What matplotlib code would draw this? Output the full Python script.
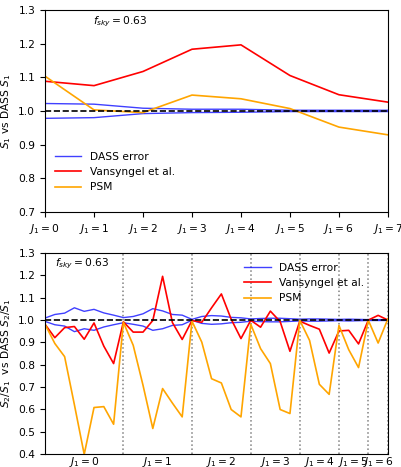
import matplotlib.pyplot as plt
import numpy as np

plt.rcParams['font.size'] = 7.7
plt.rcParams['mathtext.fontset'] = 'dejavusans'

# top panel: S1 ratios for J1 = 0..7
j1_top = np.arange(8)
s1_err_hi = [1.022, 1.020, 1.008, 1.005, 1.005, 1.002, 1.002, 1.002]
s1_err_lo = [0.978, 0.980, 0.992, 0.995, 0.996, 0.998, 0.998, 0.998]
s1_vans = [1.088, 1.075, 1.117, 1.183, 1.196, 1.105, 1.048, 1.026]
s1_psm = [1.103, 1.003, 0.995, 1.047, 1.036, 1.007, 0.952, 0.929]

# bottom panel: S2/S1 ratios, grouped by J1 (8,7,6,5,4,3,2,1 points)
group_sizes = [8, 7, 6, 5, 4, 3, 2, 1]
s2_err_hi = [1.009, 1.025, 1.031, 1.055, 1.039, 1.048, 1.032, 1.022,
             1.011, 1.016, 1.028, 1.051, 1.041, 1.025, 1.022,
             1.003, 1.016, 1.020, 1.018, 1.012, 1.010,
             1.005, 1.007, 1.008, 1.008, 1.006,
             1.004, 1.005, 1.005, 1.004,
             1.003, 1.004, 1.003,
             1.002, 1.002,
             1.002]
s2_err_lo = [0.994, 0.979, 0.973, 0.948, 0.961, 0.954, 0.969, 0.979,
             0.988, 0.981, 0.973, 0.954, 0.961, 0.976, 0.979,
             0.999, 0.985, 0.981, 0.983, 0.988, 0.990,
             0.995, 0.993, 0.992, 0.992, 0.994,
             0.996, 0.995, 0.995, 0.996,
             0.997, 0.996, 0.997,
             0.998, 0.998,
             0.998]
s2_vans = [0.981, 0.921, 0.966, 0.971, 0.914, 0.987, 0.883, 0.805,
           0.992, 0.946, 0.946, 0.998, 1.196, 0.989, 0.913,
           0.998, 0.990, 1.055, 1.117, 1.004, 0.917,
           0.999, 0.968, 1.040, 0.993, 0.860,
           0.995, 0.976, 0.959, 0.852,
           0.951, 0.954, 0.893,
           1.000, 1.021,
           1.000]
s2_psm = [0.981, 0.895, 0.836, 0.620, 0.398, 0.608, 0.612, 0.533,
          0.990, 0.887, 0.708, 0.514, 0.693, 0.628, 0.566,
          0.995, 0.901, 0.737, 0.718, 0.599, 0.566,
          0.981, 0.872, 0.805, 0.599, 0.581,
          0.999, 0.909, 0.712, 0.667,
          0.976, 0.867, 0.787,
          0.999, 0.897,
          1.006]

fig = plt.figure(figsize=(4.02, 4.67), dpi=100)
ax1 = fig.add_axes([0.112, 0.546, 0.853, 0.433])
ax2 = fig.add_axes([0.112, 0.028, 0.853, 0.430])

err_kw = dict(color='blue', alpha=0.75, lw=1)

ax1.plot(j1_top, s1_err_hi, label='DASS error', **err_kw)
ax1.plot(j1_top, s1_err_lo, **err_kw)
ax1.plot(j1_top, s1_vans, color='red', lw=1.2, label='Vansyngel et al.')
ax1.plot(j1_top, s1_psm, color='orange', lw=1.2, label='PSM')
ax1.axhline(1.0, color='k', ls='--', lw=1.2)
ax1.set_xlim(0, 7)
ax1.set_ylim(0.7, 1.3)
ax1.set_xticks(j1_top)
ax1.set_xticklabels(['$J_1=%d$' % j for j in j1_top])
ax1.set_ylabel('$S_1$ vs DASS $S_1$')
ax1.text(0.14, 0.93, '$f_{sky}=0.63$', transform=ax1.transAxes)
ax1.legend(loc='lower left', frameon=False, bbox_to_anchor=(0.0, 0.05),
           handlelength=2.5)

idx = np.arange(len(s2_psm))
starts = np.concatenate([[0], np.cumsum(group_sizes)[:-1]])
for s in starts:
    ax2.axvline(s, color='gray', ls=':', lw=1.1)
ax2.plot(idx, s2_err_hi, label='DASS error', **err_kw)
ax2.plot(idx, s2_err_lo, **err_kw)
ax2.plot(idx, s2_vans, color='red', lw=1.2, label='Vansyngel et al.')
ax2.plot(idx, s2_psm, color='orange', lw=1.2, label='PSM')
ax2.axhline(1.0, color='k', ls='--', lw=1.2)
ax2.set_xlim(0, len(s2_psm) - 1)
ax2.set_ylim(0.4, 1.3)
tick_pos = [(starts[i] + starts[i + 1]) / 2 for i in range(len(starts) - 1)]
ax2.set_xticks(tick_pos)
ax2.set_xticklabels(['$J_1=%d$' % j for j in range(len(tick_pos))])
ax2.tick_params(axis='x', length=0, pad=1)
ax2.set_ylabel('$S_2/S_1$  vs DASS $S_2/S_1$')
ax2.text(0.03, 0.935, '$f_{sky}=0.63$', transform=ax2.transAxes)
ax2.legend(loc='upper right', frameon=False, bbox_to_anchor=(0.96, 1.0),
           handlelength=2.5)

fig.savefig('out.png', dpi=100)
